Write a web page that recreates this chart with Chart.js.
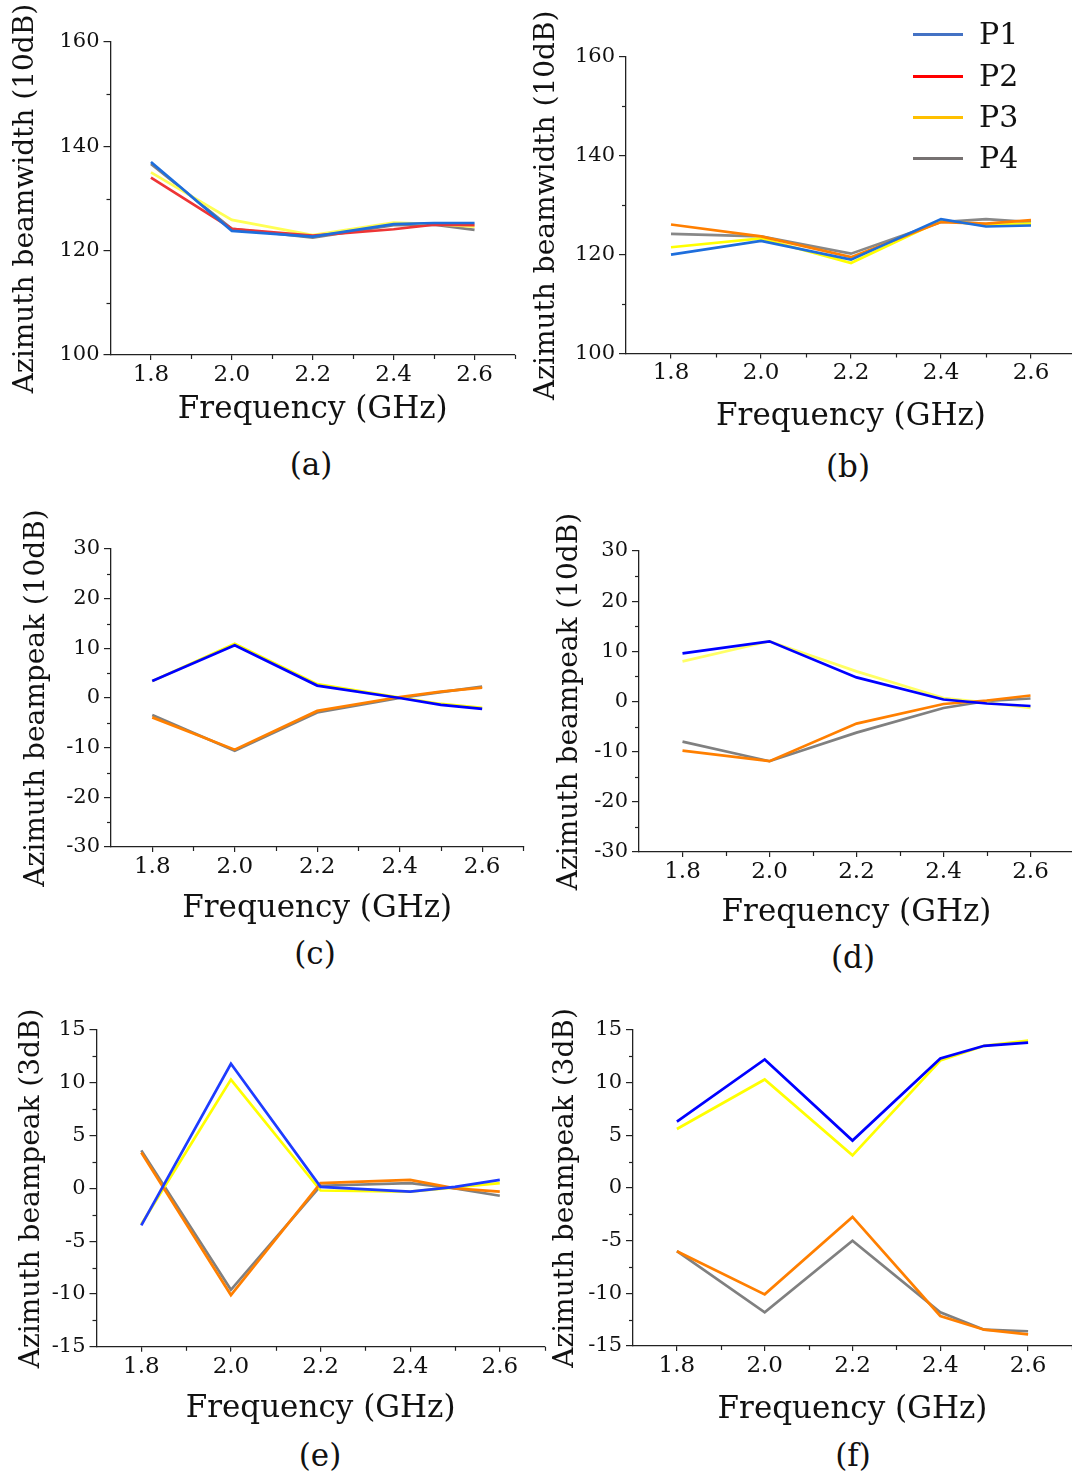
<!DOCTYPE html>
<html><head><meta charset="utf-8">
<script src="https://cdn.jsdelivr.net/npm/chart.js@4.4.1/dist/chart.umd.min.js"></script>
<style>
html,body{margin:0;padding:0;background:#fff;overflow:hidden;width:1072px;height:1476px;position:relative;font-family:'DejaVu Serif',serif;}
canvas{position:absolute;}
.cap{position:absolute;font-size:31px;line-height:1;transform:translate(-50%,-50%);color:#111;white-space:nowrap;}
.legline{position:absolute;height:3px;width:50px;}
.legtxt{position:absolute;font-size:30px;line-height:1;transform:translateY(-50%);color:#111;}
</style></head><body>
<script>
// ---------------- data ----------------
const freq = [1.8, 2.0, 2.2, 2.4, 2.5, 2.6];
const seriesNames = ['P1', 'P2', 'P3', 'P4'];
const xTickValues = [1.8, 2.0, 2.2, 2.4, 2.6];
const xMinorTicks = [1.9, 2.1, 2.3, 2.5, 2.7];
const yTicksWidth = [100, 120, 140, 160];
const yMinorWidth = [110, 130, 150];
const yTicksPeak10 = [-30, -20, -10, 0, 10, 20, 30];
const yMinorPeak10 = [-25, -15, -5, 5, 15, 25];
const yTicksPeak3 = [-15, -10, -5, 0, 5, 10, 15];
const yMinorPeak3 = [-12.5, -7.5, -2.5, 2.5, 7.5, 12.5];
const captions = ['(a)', '(b)', '(c)', '(d)', '(e)', '(f)'];
const xTitle = 'Frequency (GHz)';
const yTitles = ['Azimuth beamwidth (10dB)', 'Azimuth beampeak (10dB)', 'Azimuth beampeak (3dB)'];

// (a) beamwidth 10dB
const a_P1 = [137.0, 123.8, 122.7, 125.1, 125.3, 125.3];
const a_P2 = [134.0, 124.2, 122.9, 124.1, 125.0, 124.9];
const a_P3 = [135.0, 125.9, 123.0, 125.4, 125.1, 124.6];
const a_P4 = [136.6, 124.2, 122.5, 124.9, 125.0, 124.0];
// (b) beamwidth 10dB
const b_P1 = [120.0, 122.8, 119.0, 127.2, 125.7, 125.9];
const b_P2 = [126.1, 123.7, 119.5, 126.6, 126.3, 127.0];
const b_P3 = [121.5, 123.3, 118.3, 126.9, 126.0, 126.3];
const b_P4 = [124.2, 123.7, 120.2, 126.6, 127.2, 126.6];
// (c) beampeak 10dB
const c_P1 = [3.4, 10.6, 2.5, 0.0, -1.4, -2.2];
const c_P2 = [-3.9, -10.4, -2.6, 0.2, 1.3, 2.1];
const c_P3 = [3.4, 10.9, 2.8, 0.1, -1.2, -2.0];
const c_P4 = [-3.4, -10.6, -2.9, 0.0, 1.2, 2.3];
// (d) beampeak 10dB
const d_P1 = [9.6, 12.0, 4.8, 0.4, -0.4, -0.9];
const d_P2 = [-9.8, -11.9, -4.4, -0.5, 0.2, 1.2];
const d_P3 = [8.0, 12.0, 6.0, 0.7, -0.2, -1.3];
const d_P4 = [-8.0, -11.9, -6.2, -1.3, 0.1, 0.6];
// (e) beampeak 3dB
const e_P1 = [-3.5, 11.8, 0.15, -0.3, 0.15, 0.8];
const e_P2 = [3.4, -10.1, 0.5, 0.8, 0.0, -0.3];
const e_P3 = [-3.4, 10.3, -0.2, -0.3, 0.1, 0.5];
const e_P4 = [3.6, -9.6, 0.25, 0.5, 0.0, -0.7];
// (f) beampeak 3dB
const f_P1 = [6.3, 12.2, 4.5, 12.3, 13.5, 13.8];
const f_P2 = [-6.0, -10.1, -2.75, -12.15, -13.45, -13.9];
const f_P3 = [5.6, 10.3, 3.1, 12.1, 13.5, 14.0];
const f_P4 = [-6.0, -11.8, -5.0, -11.8, -13.45, -13.6];

// ---------------- styles ----------------
const FONT = 'DejaVu Serif';
const AXIS = '#222';
const Y_TITLE_SIZE = 28, X_TITLE_SIZE = 31;
const legendColors = ['#4472C4', '#FF0000', '#FFC000', '#767171'];

const panels = [
  {series:[a_P1,a_P2,a_P3,a_P4], colors:['#1E6EDC','#EE3535','#FFFF55','#808080'], yTicks:yTicksWidth, yMinor:yMinorWidth, yTitle:yTitles[0], cap:captions[0],
   cx:0, cy:0, cw:540, L:110.5, R:515, T:42, B:355, yTitleX:26, xTitleY:410, capX:311, capY:464},
  {series:[b_P1,b_P2,b_P3,b_P4], colors:['#1E6EDC','#FF7F00','#FFFF00','#888888'], yTicks:yTicksWidth, yMinor:yMinorWidth, yTitle:yTitles[0], cap:captions[1],
   cx:520, cy:0, cw:560, L:626, R:1076, T:57, B:353.5, yTitleX:547, xTitleY:417, capX:848, capY:466},
  {series:[c_P1,c_P2,c_P3,c_P4], colors:['#0000FF','#FF8000','#FFFF00','#808080'], yTicks:yTicksPeak10, yMinor:yMinorPeak10, yTitle:yTitles[1], cap:captions[2],
   cx:0, cy:490, cw:540, L:111, R:523.4, T:549, B:847, yTitleX:37, xTitleY:909, capX:315, capY:953},
  {series:[d_P1,d_P2,d_P3,d_P4], colors:['#0000FF','#FF7F00','#FFFF66','#808080'], yTicks:yTicksPeak10, yMinor:yMinorPeak10, yTitle:yTitles[1], cap:captions[3],
   cx:520, cy:490, cw:560, L:639, R:1074, T:551, B:852, yTitleX:570, xTitleY:913, capX:853, capY:957},
  {series:[e_P1,e_P2,e_P3,e_P4], colors:['#1E3CFF','#FF7F00','#FFFF00','#808080'], yTicks:yTicksPeak3, yMinor:yMinorPeak3, yTitle:yTitles[2], cap:captions[4],
   cx:0, cy:990, cw:560, L:96.5, R:544.6, T:1030, B:1346.8, yTitleX:32, xTitleY:1409, capX:320, capY:1455},
  {series:[f_P1,f_P2,f_P3,f_P4], colors:['#0000FF','#FF7F00','#FFFF00','#808080'], yTicks:yTicksPeak3, yMinor:yMinorPeak3, yTitle:yTitles[2], cap:captions[5],
   cx:520, cy:990, cw:560, L:633, R:1072, T:1030, B:1346, yTitleX:566, xTitleY:1410, capX:853, capY:1455}
];

const minorTicksPlugin = {
  id: 'minorTicks',
  afterDraw(chart, args, opts) {
    const ctx = chart.ctx, xs = chart.scales.x, ys = chart.scales.y, ca = chart.chartArea;
    ctx.save();
    ctx.strokeStyle = AXIS; ctx.lineWidth = 1.2;
    (opts.x || []).forEach(v => {
      const px = Math.round(xs.getPixelForValue(v)) + 0.5;
      ctx.beginPath(); ctx.moveTo(px, ca.bottom); ctx.lineTo(px, ca.bottom + 4); ctx.stroke();
    });
    (opts.y || []).forEach(v => {
      const py = Math.round(ys.getPixelForValue(v)) + 0.5;
      ctx.beginPath(); ctx.moveTo(ca.left, py); ctx.lineTo(ca.left - 4, py); ctx.stroke();
    });
    ctx.restore();
  }
};

function makePanel(p) {
  const lhY = Y_TITLE_SIZE * 1.2, lhX = X_TITLE_SIZE * 1.2;
  const axisLeft = p.yTitleX - lhY / 2;
  const ch = Math.round(p.xTitleY + lhX / 2 - p.cy);
  const cv = document.createElement('canvas');
  cv.width = p.cw; cv.height = ch;
  cv.style.left = p.cx + 'px'; cv.style.top = p.cy + 'px';
  cv.style.width = p.cw + 'px'; cv.style.height = ch + 'px';
  document.body.appendChild(cv);
  const datasets = p.series.map((s, i) => ({
    label: seriesNames[i],
    data: freq.map((f, j) => ({x: f, y: s[j]})),
    borderColor: p.colors[i], backgroundColor: p.colors[i],
    borderWidth: 2.7, pointRadius: 0, fill: false, tension: 0
  }));
  const yMin = p.yTicks[0], yMax = p.yTicks[p.yTicks.length - 1];
  new Chart(cv, {
    type: 'line',
    data: {datasets},
    options: {
      responsive: false, animation: false, events: [],
      layout: {padding: {left: axisLeft - p.cx, top: p.T - p.cy, right: p.cx + p.cw - p.R, bottom: 0}},
      plugins: {legend: {display: false}, tooltip: {enabled: false}, minorTicks: {x: xMinorTicks, y: p.yMinor}},
      scales: {
        x: {
          type: 'linear', min: 1.7, max: 2.7,
          afterBuildTicks: s => { s.ticks = xTickValues.map(v => ({value: v})); },
          afterFit: s => { s.height = p.cy + ch - p.B; },
          border: {display: true, color: AXIS, width: 1.3},
          grid: {display: true, drawOnChartArea: false, drawTicks: true, tickLength: 5, color: AXIS, lineWidth: 1.2},
          ticks: {callback: v => Number(v).toFixed(1), font: {family: FONT, size: 23}, color: '#111', padding: 1, maxRotation: 0, autoSkip: false},
          title: {display: true, text: xTitle, font: {family: FONT, size: X_TITLE_SIZE}, color: '#111', padding: 0}
        },
        y: {
          type: 'linear', min: yMin, max: yMax,
          afterBuildTicks: s => { s.ticks = p.yTicks.map(v => ({value: v})); },
          afterFit: s => { s.width = p.L - axisLeft; },
          border: {display: true, color: AXIS, width: 1.3},
          grid: {display: true, drawOnChartArea: false, drawTicks: true, tickLength: 7, color: AXIS, lineWidth: 1.2},
          ticks: {font: {family: FONT, size: 21}, color: '#111', padding: 4, autoSkip: false},
          title: {display: true, text: p.yTitle, font: {family: FONT, size: Y_TITLE_SIZE}, color: '#111', padding: 0}
        }
      }
    },
    plugins: [minorTicksPlugin]
  });
  const cap = document.createElement('div');
  cap.className = 'cap'; cap.textContent = p.cap;
  cap.style.left = p.capX + 'px'; cap.style.top = p.capY + 'px';
  document.body.appendChild(cap);
}

panels.forEach(makePanel);

// legend (panel b)
const legendY = [34, 76, 117, 158];
seriesNames.forEach((n, i) => {
  const ln = document.createElement('div');
  ln.className = 'legline'; ln.style.background = legendColors[i];
  ln.style.left = '913px'; ln.style.top = (legendY[i] - 1.5) + 'px';
  document.body.appendChild(ln);
  const t = document.createElement('div');
  t.className = 'legtxt'; t.textContent = n;
  t.style.left = '979px'; t.style.top = legendY[i] + 'px';
  document.body.appendChild(t);
});
</script>
</body></html>
